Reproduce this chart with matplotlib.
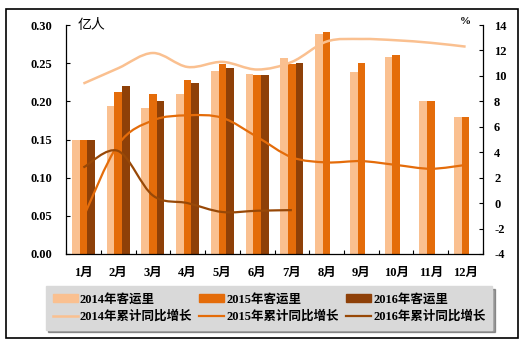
import numpy as np
import matplotlib
matplotlib.use('Agg')
from matplotlib import pyplot as plt
from matplotlib.path import Path
from matplotlib.patches import PathPatch, Rectangle, Patch
from matplotlib.lines import Line2D

plt.rcParams['font.family'] = ['Liberation Serif', 'Noto Sans CJK SC']
plt.rcParams['axes.unicode_minus'] = False

# 数据
months = ['1月', '2月', '3月', '4月', '5月', '6月', '7月', '8月', '9月', '10月', '11月', '12月']
pax_2014 = [0.150, 0.194, 0.191, 0.210, 0.240, 0.236, 0.257, 0.288, 0.238, 0.258, 0.200, 0.180]
pax_2015 = [0.149, 0.212, 0.210, 0.228, 0.249, 0.235, 0.249, 0.291, 0.250, 0.261, 0.200, 0.180]
pax_2016 = [0.149, 0.220, 0.200, 0.224, 0.244, 0.235, 0.250, np.nan, np.nan, np.nan, np.nan, np.nan]
growth_2014 = [9.4, 10.6, 11.8, 10.7, 11.1, 10.5, 11.1, 12.7, 12.9, 12.8, 12.6, 12.3]
growth_2015 = [-1.1, 4.6, 6.5, 6.9, 6.7, 5.2, 3.6, 3.2, 3.3, 3.0, 2.7, 3.0]
growth_2016 = [2.8, 4.1, 0.6, 0.0, -0.7, -0.6, -0.55]

c14, c15, c16 = '#FAC090', '#E46C0A', '#8E4008'
lc14, lc15, lc16 = '#FAC090', '#E46C0A', '#984807'


def smooth_line(ax, y, color, lw=1.6):
    """类似 Excel 的平滑折线 (Catmull-Rom -> Bezier)"""
    x = np.arange(len(y), dtype=float)
    y = np.asarray(y, dtype=float)
    pts = np.column_stack([x, y])
    verts = [pts[0]]
    codes = [Path.MOVETO]
    n = len(pts)
    for i in range(n - 1):
        p0 = pts[i - 1] if i > 0 else pts[i]
        p1, p2 = pts[i], pts[i + 1]
        p3 = pts[i + 2] if i + 2 < n else pts[i + 1]
        verts += [p1 + (p2 - p0) / 6, p2 - (p3 - p1) / 6, p2]
        codes += [Path.CURVE4] * 3
    ax.add_patch(PathPatch(Path(verts, codes), fc='none', ec=color, lw=lw,
                           transform=ax.transData, zorder=5))


fig = plt.figure(figsize=(5.25, 3.45), dpi=100)
ax = fig.add_axes([66 / 525, 1 - 254 / 345, (483 - 66) / 525, (254 - 25) / 345])
ax2 = ax.twinx()

x = np.arange(len(months))
w = 0.22
ax.bar(x - w, pax_2014, w, color=c14, linewidth=0, zorder=2)
ax.bar(x, pax_2015, w, color=c15, linewidth=0, zorder=2)
ax.bar(x + w, pax_2016, w, color=c16, linewidth=0, zorder=2)

ax.set_xlim(-0.5, 11.5)
ax.set_ylim(0, 0.30)
ax.set_yticks(np.arange(0, 0.31, 0.05))
ax.set_yticklabels([f'{v:.2f}' for v in np.arange(0, 0.31, 0.05)])
ax.set_xticks(x)
ax.set_xticklabels(months)
ax.set_xticks(np.arange(-0.5, 12, 1), minor=True)
ax.tick_params(axis='x', which='major', length=0, pad=9)
ax.tick_params(axis='x', which='minor', length=3, direction='in', width=0.8)
ax.tick_params(axis='y', length=3, direction='in', width=0.8, pad=10)
for lab in ax.get_xticklabels() + ax.get_yticklabels():
    lab.set_fontsize(9)
    lab.set_fontweight('bold')

ax2.set_ylim(-4, 14)
ax2.set_yticks(np.arange(-4, 15, 2))
ax2.tick_params(axis='y', length=3, direction='in', width=0.8, pad=8)
for lab in ax2.get_yticklabels():
    lab.set_fontsize(9)
    lab.set_fontweight('bold')

for a in (ax, ax2):
    a.spines['top'].set_visible(False)
    for s in ('left', 'right', 'bottom'):
        a.spines[s].set_linewidth(0.9)
ax.spines['right'].set_visible(False)
ax2.spines['left'].set_visible(False)
ax2.spines['bottom'].set_visible(False)

smooth_line(ax2, growth_2014, lc14, lw=1.8)
smooth_line(ax2, growth_2015, lc15, lw=1.6)
smooth_line(ax2, growth_2016, lc16, lw=1.6)

ax.text(78 / 525, 1 - 25 / 345, '亿人', transform=fig.transFigure, fontsize=10,
        family=['Noto Sans CJK SC'], va='center', ha='left')
ax.text(465 / 525, 1 - 22 / 345, '%', transform=fig.transFigure, fontsize=8,
        fontweight='bold', va='center', ha='center')

# 图例
handles = [
    Patch(color=c14, label='2014年客运里'),
    Line2D([], [], color=lc14, lw=1.8, label='2014年累计同比增长'),
    Patch(color=c15, label='2015年客运里'),
    Line2D([], [], color=lc15, lw=1.6, label='2015年累计同比增长'),
    Patch(color=c16, label='2016年客运里'),
    Line2D([], [], color=lc16, lw=1.6, label='2016年累计同比增长'),
]
leg = fig.legend(handles=handles, ncol=3, loc='center',
                 bbox_to_anchor=(269 / 525, 1 - 308 / 345),
                 prop={'family': ['Liberation Serif', 'Noto Sans CJK SC'],
                       'weight': 'bold', 'size': 9},
                 frameon=True, fancybox=False, shadow=True,
                 facecolor='#D9D9D9', edgecolor='#D9D9D9', framealpha=1,
                 handlelength=2.0, handleheight=0.6, handletextpad=0.15,
                 columnspacing=0.6, labelspacing=0.4, borderpad=0.55)

# 外框
fig.patches.append(Rectangle((6 / 525, 1 - 338 / 345), 512 / 525, 329 / 345,
                             transform=fig.transFigure, fill=False,
                             ec='black', lw=1.2))

fig.savefig('out.png', dpi=100)
